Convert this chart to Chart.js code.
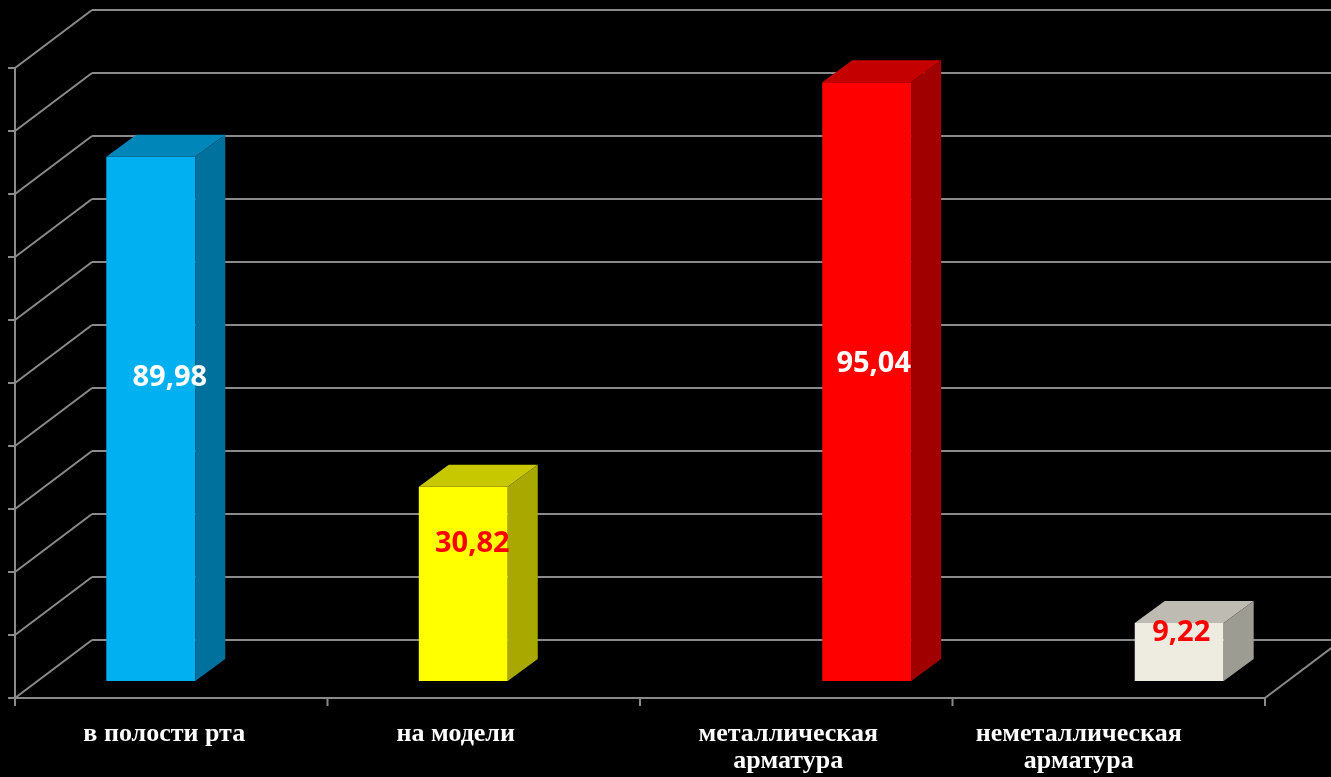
<!DOCTYPE html>
<html>
<head>
<meta charset="utf-8">
<script src="https://cdn.jsdelivr.net/npm/chart.js@4.4.1/dist/chart.umd.min.js"></script>
<style>
  html, body { margin: 0; padding: 0; background: #000; }
  canvas { display: block; }
</style>
</head>
<body>
<canvas id="chart" width="1331" height="777"></canvas>
<script>
// data
const categories = [['в полости рта'], ['на модели'], ['металлическая', 'арматура'], ['неметаллическая', 'арматура']];
const seriesA = [83.2, 30.82, null, null];
const seriesB = [null, null, 95.04, 9.22];
const valueLabels = ['89,98', '30,82', '95,04', '9,22'];
const yTickValues = [0, 10, 20, 30, 40, 50, 60, 70, 80, 90, 100];

// colours per bar (front, top, side)
const frontColors = ['#00B0F0', '#FFFF00', '#FF0000', '#EEECE1'];
const topColors = ['#0086B8', '#C8C800', '#C40000', '#BDBBB2'];
const sideColors = ['#00709C', '#A8A800', '#A00000', '#9D9C93'];
const labelColors = ['#FFFFFF', '#FF0000', '#FFFFFF', '#FF0000'];

// 3D geometry helpers
const FRONT = { dx: -25, dy: 17 };   // bar plane -> front of floor
const BACK = { dx: 52, dy: -41 };    // bar plane -> back wall
const BAR_DEPTH = { dx: 30, dy: -22 };
const GRID = '#8a8a8a';

function line(ctx, x1, y1, x2, y2) {
    ctx.beginPath();
    ctx.moveTo(x1, y1);
    ctx.lineTo(x2, y2);
    ctx.stroke();
}

function poly(ctx, pts, color) {
    ctx.beginPath();
    ctx.moveTo(pts[0][0], pts[0][1]);
    for (let i = 1; i < pts.length; i++) ctx.lineTo(pts[i][0], pts[i][1]);
    ctx.closePath();
    ctx.fillStyle = color;
    ctx.fill();
}

const walls3d = {
    id: 'walls3d',
    beforeDatasetsDraw(chart) {
        const ctx = chart.ctx;
        const xs = chart.scales.x, ys = chart.scales.y;
        ctx.save();
        ctx.strokeStyle = GRID;
        ctx.lineWidth = 2;
        const left = xs.left, right = xs.right;
        // back wall + left wall gridlines
        yTickValues.forEach(v => {
            const y = ys.getPixelForValue(v);
            line(ctx, left + FRONT.dx, y + FRONT.dy, left + BACK.dx, y + BACK.dy);
            line(ctx, left + BACK.dx, y + BACK.dy, right + BACK.dx, y + BACK.dy);
            // tick on the left axis
            line(ctx, left + FRONT.dx - 7, y + FRONT.dy, left + FRONT.dx, y + FRONT.dy);
        });
        const y0 = ys.getPixelForValue(0), yTop = ys.getPixelForValue(100);
        // left vertical axis
        line(ctx, left + FRONT.dx, y0 + FRONT.dy, left + FRONT.dx, yTop + FRONT.dy);
        // front floor edge and right floor edge
        line(ctx, left + FRONT.dx, y0 + FRONT.dy, right + FRONT.dx, y0 + FRONT.dy);
        line(ctx, right + FRONT.dx, y0 + FRONT.dy, right + BACK.dx, y0 + BACK.dy);
        // category tick marks
        const step = (right - left) / categories.length;
        for (let i = 0; i <= categories.length; i++) {
            const x = left + step * i + FRONT.dx;
            line(ctx, x, y0 + FRONT.dy, x, y0 + FRONT.dy + 8);
        }
        ctx.restore();
    },
    afterDatasetsDraw(chart, args, opts) {
        const ctx = chart.ctx;
        const xs = chart.scales.x, ys = chart.scales.y;
        ctx.save();
        chart.data.datasets.forEach((ds, di) => {
            const meta = chart.getDatasetMeta(di);
            meta.data.forEach((bar, i) => {
                if (ds.data[i] == null) return;
                const p = bar.getProps(['x', 'y', 'base', 'width'], true);
                const l = p.x - p.width / 2, r = p.x + p.width / 2;
                const dx = BAR_DEPTH.dx, dy = BAR_DEPTH.dy;
                poly(ctx, [[l, p.y], [l + dx, p.y + dy], [r + dx, p.y + dy], [r, p.y]], topColors[i]);
                poly(ctx, [[r, p.y], [r + dx, p.y + dy], [r + dx, p.base + dy], [r, p.base]], sideColors[i]);
                // value label
                const sh = opts.valueShift[i];
                ctx.font = 'bold 29px "Open Sans", sans-serif';
                ctx.fillStyle = labelColors[i];
                ctx.textAlign = 'center';
                ctx.textBaseline = 'middle';
                ctx.fillText(valueLabels[i], p.x + sh[0], (p.y + p.base) / 2 + sh[1]);
            });
        });
        // category labels under the front floor edge
        const y0 = ys.getPixelForValue(0) + FRONT.dy;
        ctx.font = 'bold 26px "Liberation Serif", "Times New Roman", serif';
        ctx.fillStyle = '#FFFFFF';
        ctx.textAlign = 'center';
        ctx.textBaseline = 'alphabetic';
        categories.forEach((lines, i) => {
            const x = xs.getPixelForValue(i) + FRONT.dx + opts.catShift[i];
            lines.forEach((t, k) => ctx.fillText(t, x, y0 + 43 + k * 27));
        });
        ctx.restore();
    }
};

new Chart(document.getElementById('chart'), {
    type: 'bar',
    data: {
        labels: categories.map(c => c.join(' ')),
        datasets: [
            { data: seriesA, backgroundColor: frontColors, borderWidth: 0 },
            { data: seriesB, backgroundColor: frontColors, borderWidth: 0 }
        ]
    },
    options: {
        responsive: false,
        animation: false,
        devicePixelRatio: 1,
        categoryPercentage: 0.582,
        barPercentage: 0.978,
        layout: { padding: { left: 40, right: 41, top: 51, bottom: 96 } },
        scales: {
            x: { display: false },
            y: { display: false, min: 0, max: 100 }
        },
        plugins: {
            legend: { display: false },
            tooltip: { enabled: false },
            walls3d: {
                valueShift: [[19, -41], [9, -40], [7, -18], [2, -19]],
                catShift: [-7, -28, -8, -30]
            }
        }
    },
    plugins: [walls3d]
});
</script>
</body>
</html>
